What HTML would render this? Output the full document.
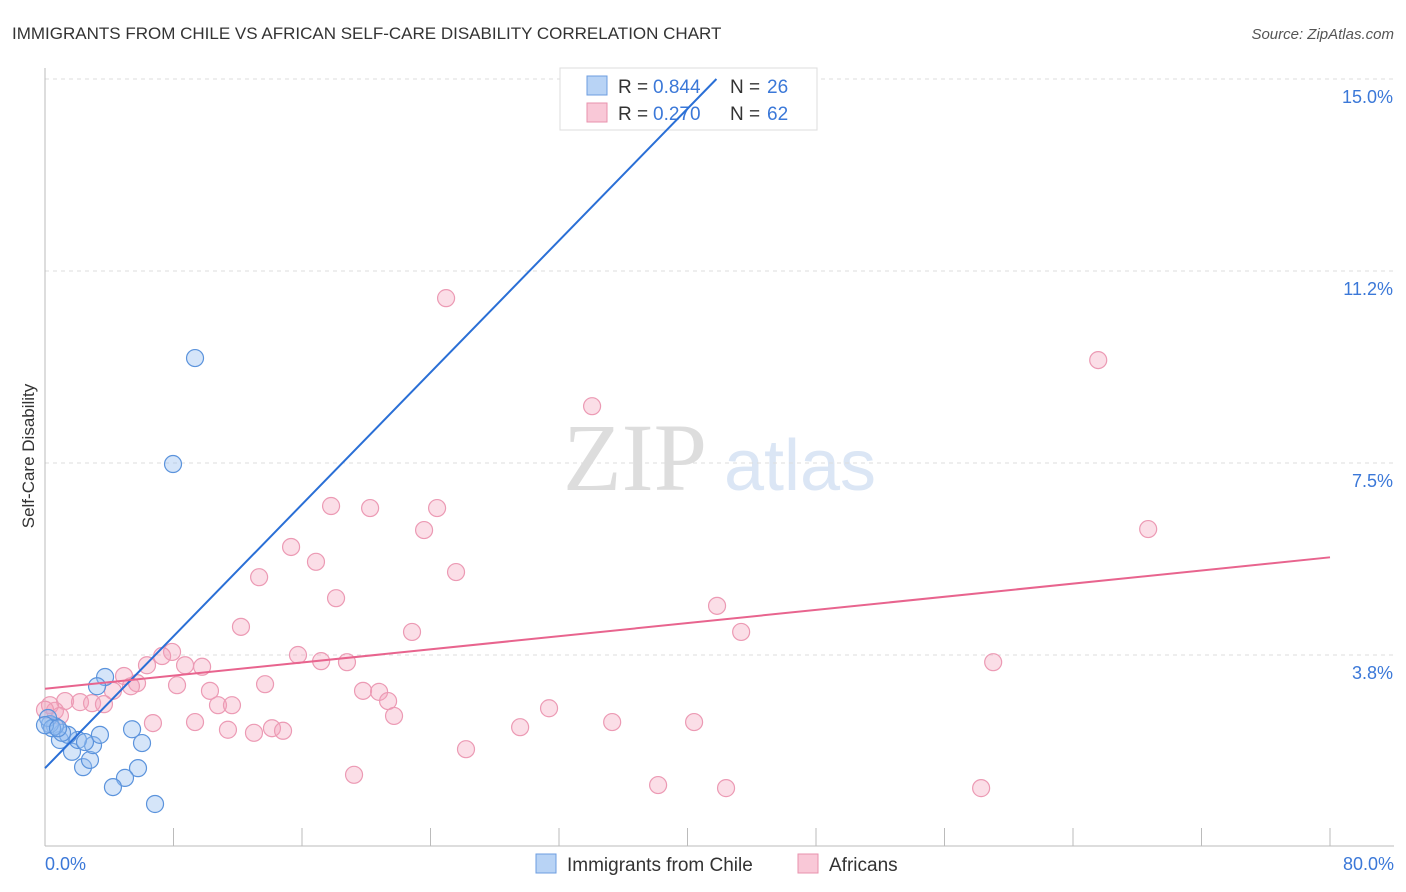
<!DOCTYPE html>
<html><head><meta charset="utf-8"><style>
body{margin:0;background:#fff;font-family:"Liberation Sans",sans-serif}
svg{display:block}
</style></head><body>
<svg id="c" width="1406" height="892">
<text x="12" y="39" font-size="17" fill="#333">IMMIGRANTS FROM CHILE VS AFRICAN SELF-CARE DISABILITY CORRELATION CHART</text>
<text x="1394" y="39" font-size="15" fill="#555" font-style="italic" text-anchor="end">Source: ZipAtlas.com</text>
<text x="635" y="490" font-size="96" fill="#ddd" font-family="Liberation Serif" text-anchor="middle">ZIP</text>
<text x="800" y="490" font-size="72" fill="#dbe6f5" text-anchor="middle">atlas</text>
<g id="grid"></g><g id="axes"></g>
<g>
<rect x="560" y="68" width="257" height="62" fill="#fff" stroke="#ddd"/>
<rect x="587" y="76" width="20" height="19" fill="#b8d3f5" stroke="#6d9ee0"/>
<rect x="587" y="103" width="20" height="19" fill="#f9c8d7" stroke="#e892ad"/>
<text x="618" y="93" font-size="19" fill="#333">R =</text>
<text x="653" y="93" font-size="19" fill="#3b78d8">0.844</text>
<text x="730" y="93" font-size="19" fill="#333">N =</text>
<text x="767" y="93" font-size="19" fill="#3b78d8">26</text>
<text x="618" y="120" font-size="19" fill="#333">R =</text>
<text x="653" y="120" font-size="19" fill="#3b78d8">0.270</text>
<text x="730" y="120" font-size="19" fill="#333">N =</text>
<text x="767" y="120" font-size="19" fill="#3b78d8">62</text>
</g>
<g id="pts"></g><g id="lines"></g>
<text x="34" y="456" font-size="17" fill="#333" text-anchor="middle" transform="rotate(-90 34 456)">Self-Care Disability</text>
<text x="45" y="870" font-size="18" fill="#3b78d8">0.0%</text>
<text x="1394" y="870" font-size="18" fill="#3b78d8" text-anchor="end">80.0%</text>
<g>
<rect x="536" y="854" width="20" height="19" fill="#b8d3f5" stroke="#6d9ee0"/>
<text x="567" y="871" font-size="19" fill="#333">Immigrants from Chile</text>
<rect x="798" y="854" width="20" height="19" fill="#f9c8d7" stroke="#e892ad"/>
<text x="829" y="871" font-size="19" fill="#333">Africans</text>
</g>
</svg>
<script>
const yTicks=[3.8,7.5,11.2,15.0];
const yTickVals=[3.75,7.5,11.25,15];
const xTicks=[0,8,16,24,32,40,48,56,64,72,80];
const chileX=[9.34,7.97,3.74,3.24,5.42,6.04,0.93,1.68,2.37,2.80,2.99,2.05,1.43,1.06,2.49,0.62,0.31,0.19,0.44,5.79,4.98,4.23,6.85,3.42,0.0,0.81];
const chileY=[9.55,7.48,3.32,3.14,2.30,2.03,2.09,1.86,1.56,1.70,1.99,2.09,2.19,2.23,2.05,2.36,2.40,2.52,2.32,1.54,1.35,1.17,0.84,2.19,2.38,2.32];
const afrX=[24.97,65.57,34.06,68.68,17.81,20.24,24.41,23.60,15.32,16.87,25.59,13.33,18.12,41.84,12.20,22.85,43.34,59.03,7.91,7.29,6.35,8.72,9.78,15.75,17.19,18.80,4.92,5.73,5.35,8.22,13.70,10.27,19.80,20.80,21.36,4.23,1.25,2.18,2.93,3.67,10.77,11.64,21.73,31.38,6.72,9.34,35.31,40.41,11.39,13.01,14.13,14.82,29.58,26.21,19.24,38.17,42.40,58.28,0.62,0.31,0.93,0.0];
const afrY=[10.72,9.51,8.61,6.21,6.66,6.62,6.62,6.19,5.86,5.57,5.37,5.27,4.86,4.71,4.30,4.20,4.20,3.61,3.81,3.73,3.55,3.55,3.52,3.75,3.63,3.61,3.34,3.20,3.14,3.16,3.18,3.05,3.05,3.03,2.85,3.05,2.85,2.83,2.81,2.79,2.77,2.77,2.56,2.71,2.42,2.44,2.44,2.44,2.29,2.23,2.32,2.27,2.34,1.91,1.41,1.21,1.15,1.15,2.66,2.77,2.56,2.68];
const chileTrend=[1.54,0.322];
const afrTrend=[3.09,0.0321];
const X=v=>45+v*16.0625, Y=v=>847-v*51.2;
const NS='http://www.w3.org/2000/svg';
function mk(p,t,a){const e=document.createElementNS(NS,t);for(const k in a)e.setAttribute(k,a[k]);p.appendChild(e);return e;}
const g=document.getElementById('grid'),ax=document.getElementById('axes'),pts=document.getElementById('pts'),ln=document.getElementById('lines');
yTickVals.forEach((v,i)=>{
 const l=mk(g,'line',{x1:45,x2:1394,y1:Y(v),y2:Y(v),stroke:'#ddd','stroke-dasharray':'4,4'});
 
 
 const t=mk(g,'text',{x:1393,y:Y(v)+24,'font-size':18,fill:'#3b78d8','text-anchor':'end'});
 t.textContent=yTicks[i].toFixed(1)+'%';
 
 
});
const ya=mk(ax,'line',{x1:45,x2:45,y1:68,y2:846,stroke:'#bbb'});


const xa=mk(ax,'line',{x1:45,x2:1394,y1:846,y2:846,stroke:'#bbb'});


xTicks.forEach(v=>{const t=mk(ax,'line',{x1:X(v),x2:X(v),y1:828,y2:846,stroke:'#bbb'});
 
 });
afrX.forEach((v,i)=>{const c=mk(pts,'circle',{cx:X(v),cy:Y(afrY[i]),r:8.5,fill:'rgba(244,160,186,0.35)',stroke:'#ec9ab4','stroke-width':1.2});
 
 });
chileX.forEach((v,i)=>{const c=mk(pts,'circle',{cx:X(v),cy:Y(chileY[i]),r:8.5,fill:'rgba(150,190,240,0.4)',stroke:'#5b93dc','stroke-width':1.2});
 
 });
const x2=(15-chileTrend[0])/chileTrend[1];
const bl=mk(ln,'line',{x1:X(0),y1:Y(chileTrend[0]),x2:X(x2),y2:Y(15),stroke:'#2a6fd6','stroke-width':2});


const pl=mk(ln,'line',{x1:X(0),y1:Y(afrTrend[0]),x2:X(80),y2:Y(afrTrend[0]+afrTrend[1]*80),stroke:'#e8648e','stroke-width':2});


</script>
</body></html>
